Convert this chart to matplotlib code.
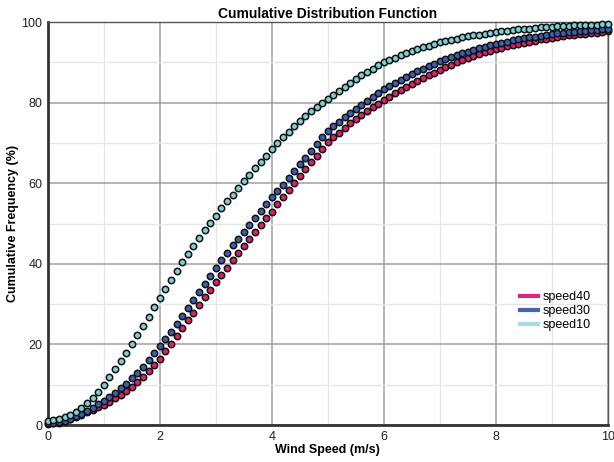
import matplotlib
matplotlib.use("Agg")
import matplotlib.pyplot as plt
import numpy as np

plt.rcParams['font.family'] = ['Liberation Sans', 'DejaVu Sans']

# wind speed bins (m/s)
speed = np.round(np.arange(0, 10.01, 0.1), 1)

speed10 = [
    1.0, 1.2, 1.5, 1.9, 2.5, 3.3, 4.3, 5.5, 6.8, 8.3,
    10.0, 11.9, 13.9, 15.9, 17.9, 20.0, 22.3, 24.6, 26.9, 29.2,
    31.5, 33.8, 36.0, 38.2, 40.4, 42.5, 44.5, 46.4, 48.3, 50.2,
    52.0, 53.8, 55.5, 57.2, 58.9, 60.5, 62.1, 63.7, 65.3, 66.9,
    68.5, 70.0, 71.4, 72.8, 74.2, 75.5, 76.7, 77.9, 79.0, 80.0,
    81.0, 82.0, 83.0, 84.0, 85.0, 86.0, 86.9, 87.7, 88.5, 89.3,
    90.0, 90.6, 91.2, 91.8, 92.3, 92.8, 93.3, 93.8, 94.2, 94.6,
    95.0, 95.3, 95.6, 95.9, 96.2, 96.5, 96.7, 96.9, 97.1, 97.3,
    97.5, 97.7, 97.9, 98.0, 98.2, 98.3, 98.4, 98.6, 98.7, 98.8,
    98.9, 99.0, 99.1, 99.1, 99.2, 99.3, 99.3, 99.4, 99.4, 99.5,
    99.6]

speed30 = [
    0.5, 0.6, 0.8, 1.1, 1.6, 2.2, 2.8, 3.5, 4.3, 5.1,
    6.0, 7.0, 8.0, 9.1, 10.3, 11.6, 13.0, 14.5, 16.1, 17.8,
    19.5, 21.3, 23.2, 25.1, 27.0, 29.0, 31.0, 33.0, 35.0, 37.0,
    39.0, 40.9, 42.8, 44.6, 46.3, 48.0, 49.7, 51.4, 53.1, 54.8,
    56.5, 58.1, 59.7, 61.4, 63.1, 64.7, 66.4, 68.0, 69.7, 71.4,
    73.0, 74.2, 75.3, 76.4, 77.5, 78.5, 79.5, 80.5, 81.5, 82.4,
    83.3, 84.1, 84.9, 85.7, 86.5, 87.2, 87.9, 88.5, 89.1, 89.7,
    90.3, 90.8, 91.3, 91.8, 92.3, 92.7, 93.1, 93.5, 93.9, 94.3,
    94.6, 94.9, 95.2, 95.5, 95.8, 96.0, 96.2, 96.4, 96.6, 96.8,
    97.0, 97.2, 97.3, 97.5, 97.6, 97.8, 97.9, 98.0, 98.1, 98.2,
    98.4]

speed40 = [
    0.3, 0.4, 0.6, 0.9, 1.4, 2.0, 2.6, 3.2, 3.8, 4.4,
    5.0, 5.8, 6.6, 7.5, 8.5, 9.5, 10.7, 12.0, 13.5, 15.0,
    16.5, 18.3, 20.2, 22.1, 24.0, 26.0, 27.9, 29.8, 31.7, 33.6,
    35.5, 37.3, 39.1, 40.9, 42.7, 44.5, 46.2, 47.9, 49.6, 51.3,
    53.0, 54.8, 56.6, 58.4, 60.1, 61.8, 63.5, 65.2, 66.9, 68.6,
    70.2, 71.4, 72.6, 73.8, 74.9, 76.0, 77.0, 78.0, 78.9, 79.8,
    80.6, 81.5, 82.3, 83.1, 83.9, 84.7, 85.4, 86.1, 86.8, 87.5,
    88.2, 88.8, 89.4, 90.0, 90.6, 91.1, 91.6, 92.1, 92.5, 92.9,
    93.3, 93.7, 94.0, 94.3, 94.6, 94.9, 95.2, 95.4, 95.7, 95.9,
    96.1, 96.3, 96.5, 96.7, 96.8, 97.0, 97.1, 97.3, 97.4, 97.5,
    97.7]

fig = plt.figure(figsize=(6.14, 4.62), dpi=100)
ax = fig.add_axes([0.078, 0.080, 0.912, 0.872])

ax.set_xlim(0, 10)
ax.set_ylim(0, 100)
ax.set_xticks([0, 2, 4, 6, 8, 10])
ax.set_yticks([0, 20, 40, 60, 80, 100])
ax.set_xticks(np.arange(1, 10, 2), minor=True)
ax.set_yticks(np.arange(10, 100, 20), minor=True)
ax.grid(which='major', color='#a0a0a0', lw=1.1)
ax.grid(which='minor', color='#e6e6e6', lw=0.9)
ax.set_axisbelow(True)

for vals, col, legcol, lab in [(speed40, '#d8246c', '#e0287a', 'speed40'),
                               (speed30, '#3c5fb0', '#4565ad', 'speed30'),
                               (speed10, '#7fd0d4', '#a6dce6', 'speed10')]:
    ax.plot(speed, vals, ls='none', marker='o', ms=4.6, mfc=col, mec='#111111',
            mew=1.1, clip_on=False, zorder=3)
    ax.plot([], [], color=legcol, lw=3, label=lab)

ax.legend(loc='lower right', bbox_to_anchor=(0.99, 0.205), frameon=False,
          fontsize=9, handlelength=1.4, handletextpad=0.4, labelspacing=0.15)

for s in ['left', 'bottom']:
    ax.spines[s].set_linewidth(2)
    ax.spines[s].set_color('#333333')
for s in ['top', 'right']:
    ax.spines[s].set_linewidth(1)
    ax.spines[s].set_color('#555555')

ax.tick_params(which='both', length=0, labelsize=9, pad=4, colors='#222222')
ax.set_title('Cumulative Distribution Function', fontsize=10, fontweight='bold', pad=3)
ax.set_xlabel('Wind Speed (m/s)', fontsize=9, fontweight='bold', labelpad=1)
ax.set_ylabel('Cumulative Frequency (%)', fontsize=9, fontweight='bold', labelpad=2)

fig.savefig('out.png', dpi=100)
